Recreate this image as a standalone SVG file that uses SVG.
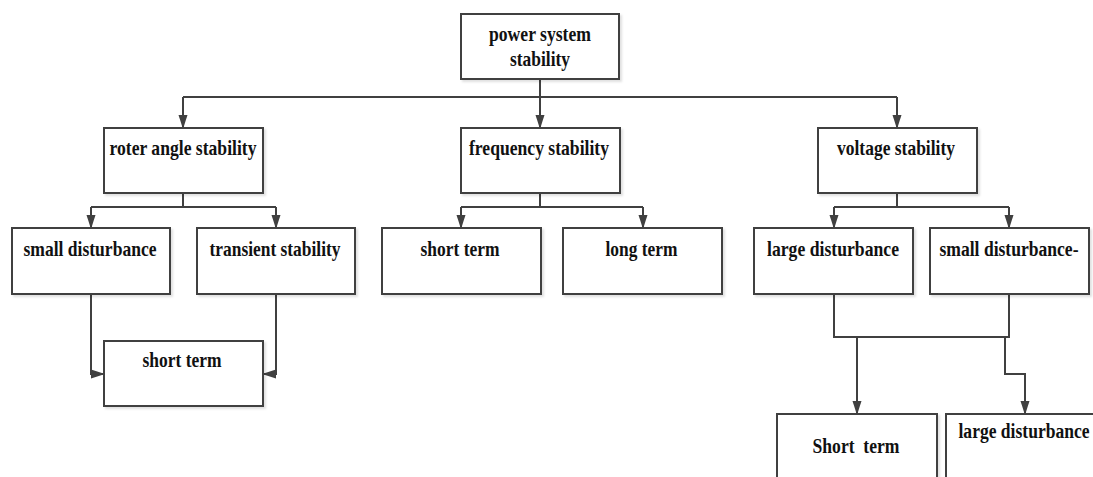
<svg xmlns="http://www.w3.org/2000/svg" width="1093" height="477" viewBox="0 0 1093 477">
  <style>
    .box { fill: #ffffff; stroke: #404040; stroke-width: 2; filter: url(#sh); }
    .t { font-family: "Liberation Serif", "Times New Roman", serif; font-weight: bold; font-size: 21px; fill: #111111; text-anchor: middle; }
    .c { fill: none; stroke: #404040; stroke-width: 2; }
    .a { marker-end: url(#arr); }
  </style>
  <defs>
    <marker id="arr" markerUnits="userSpaceOnUse" markerWidth="14" markerHeight="10" refX="13" refY="5" orient="auto">
      <path d="M0,0.5 L14,5 L0,9.5 z" fill="#404040"/>
    </marker>
    <filter id="sh" x="-5%" y="-5%" width="115%" height="120%">
      <feDropShadow dx="2" dy="2" stdDeviation="1" flood-color="#000000" flood-opacity="0.12"/>
    </filter>
  </defs>
  <rect width="1093" height="477" fill="#ffffff"/>

  <g id="connectors">
    <path class="c a" d="M540,79 V128"/>
    <path class="c" d="M183,97 H897"/>
    <path class="c a" d="M183,97 V128"/>
    <path class="c a" d="M897,97 V128"/>

    <path class="c" d="M183,193 V207 M91,207 H276"/>
    <path class="c a" d="M91,207 V228"/>
    <path class="c a" d="M276,207 V228"/>

    <path class="c" d="M540,193 V207 M461,207 H643"/>
    <path class="c a" d="M461,207 V228"/>
    <path class="c a" d="M643,207 V228"/>

    <path class="c" d="M897,193 V207 M834,207 H1009"/>
    <path class="c a" d="M834,207 V228"/>
    <path class="c a" d="M1009,207 V228"/>

    <path class="c a" d="M91,294 V374 H104"/>
    <path class="c a" d="M276,294 V374 H263"/>

    <path class="c" d="M834,294 V337 H1009 V294"/>
    <path class="c a" d="M857,337 V414"/>
    <path class="c a" d="M1005,337 V374 H1025 V414"/>
  </g>

  <g id="power-system-stability">
    <rect class="box" x="461" y="14" width="158" height="65"/>
    <text class="t" x="540" y="41" textLength="102" lengthAdjust="spacingAndGlyphs">power system</text>
    <text class="t" x="540" y="66" textLength="60" lengthAdjust="spacingAndGlyphs">stability</text>
  </g>

  <g id="roter-angle-stability">
    <rect class="box" x="104" y="128" width="159" height="65"/>
    <text class="t" x="183" y="155" textLength="147" lengthAdjust="spacingAndGlyphs">roter angle stability</text>
  </g>

  <g id="frequency-stability">
    <rect class="box" x="461" y="128" width="159" height="65"/>
    <text class="t" x="539" y="155" textLength="140" lengthAdjust="spacingAndGlyphs">frequency stability</text>
  </g>

  <g id="voltage-stability">
    <rect class="box" x="818" y="128" width="159" height="65"/>
    <text class="t" x="896" y="155" textLength="118" lengthAdjust="spacingAndGlyphs">voltage stability</text>
  </g>

  <g id="small-disturbance">
    <rect class="box" x="12" y="228" width="158" height="66"/>
    <text class="t" x="90" y="256" textLength="133" lengthAdjust="spacingAndGlyphs">small disturbance</text>
  </g>

  <g id="transient-stability">
    <rect class="box" x="197" y="228" width="158" height="66"/>
    <text class="t" x="275" y="256" textLength="131" lengthAdjust="spacingAndGlyphs">transient stability</text>
  </g>

  <g id="freq-short-term">
    <rect class="box" x="382" y="228" width="159" height="66"/>
    <text class="t" x="460" y="256" textLength="79" lengthAdjust="spacingAndGlyphs">short term</text>
  </g>

  <g id="freq-long-term">
    <rect class="box" x="563" y="228" width="159" height="66"/>
    <text class="t" x="641.5" y="256" textLength="72" lengthAdjust="spacingAndGlyphs">long term</text>
  </g>

  <g id="large-disturbance">
    <rect class="box" x="754" y="228" width="159" height="66"/>
    <text class="t" x="833" y="256" textLength="132" lengthAdjust="spacingAndGlyphs">large disturbance</text>
  </g>

  <g id="small-disturbance-dash">
    <rect class="box" x="930" y="228" width="159" height="66"/>
    <text class="t" transform="translate(1009,256) scale(0.84,1)" x="0" y="0" textLength="165.5" lengthAdjust="spacingAndGlyphs">small disturbance-</text>
  </g>

  <g id="rotor-short-term">
    <rect class="box" x="104" y="341" width="159" height="65"/>
    <text class="t" x="182" y="367" textLength="79" lengthAdjust="spacingAndGlyphs">short term</text>
  </g>

  <g id="voltage-short-term">
    <rect class="box" x="777" y="414" width="160" height="80"/>
    <text class="t" x="856" y="453" textLength="87" lengthAdjust="spacingAndGlyphs" xml:space="preserve">Short  term</text>
  </g>

  <g id="voltage-large-disturbance">
    <rect class="box" x="946" y="414" width="160" height="80"/>
    <text class="t" transform="translate(1024,438) scale(0.84,1)" x="0" y="0" textLength="156" lengthAdjust="spacingAndGlyphs">large disturbance</text>
  </g>
</svg>
